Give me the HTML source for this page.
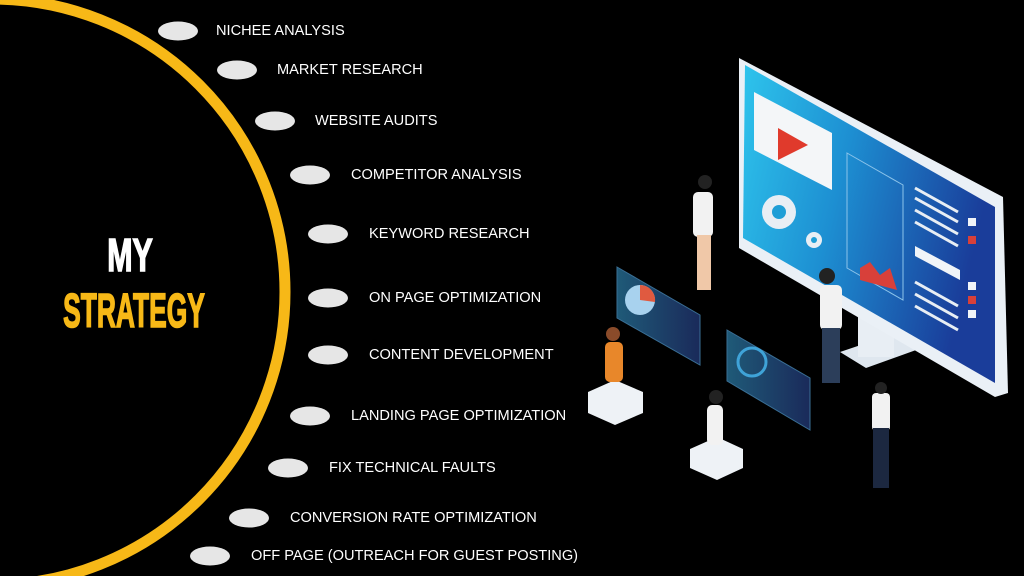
<!DOCTYPE html>
<html><head><meta charset="utf-8"><style>
html,body{margin:0;padding:0;background:#000;}
svg{display:block}
.t{font-family:"Liberation Sans",sans-serif;font-size:14.6px;fill:#fff;dominant-baseline:central}
.h{font-family:"Liberation Sans Narrow","Liberation Sans",sans-serif;font-weight:bold}
</style></head><body>
<svg width="1024" height="576" viewBox="0 0 1024 576" xmlns="http://www.w3.org/2000/svg">
<rect width="1024" height="576" fill="#000"/>
<circle cx="-8" cy="292" r="293" fill="none" stroke="#f7b817" stroke-width="11"/>
<text class="h" x="130" y="271" font-size="46" fill="#fff" stroke="#fff" stroke-width="1.6" text-anchor="middle" transform="translate(130 0) scale(0.66 1) translate(-130 0)">MY</text>
<text class="h" x="134" y="327" font-size="48" fill="#f7b817" stroke="#f7b817" stroke-width="1.6" text-anchor="middle" transform="translate(134 0) scale(0.55 1) translate(-134 0)">STRATEGY</text>
<g fill="#e6e6e6">
<ellipse cx="178" cy="31" rx="20" ry="9.5"/>
<ellipse cx="237" cy="70" rx="20" ry="9.5"/>
<ellipse cx="275" cy="121" rx="20" ry="9.5"/>
<ellipse cx="310" cy="175" rx="20" ry="9.5"/>
<ellipse cx="328" cy="234" rx="20" ry="9.5"/>
<ellipse cx="328" cy="298" rx="20" ry="9.5"/>
<ellipse cx="328" cy="355" rx="20" ry="9.5"/>
<ellipse cx="310" cy="416" rx="20" ry="9.5"/>
<ellipse cx="288" cy="468" rx="20" ry="9.5"/>
<ellipse cx="249" cy="518" rx="20" ry="9.5"/>
<ellipse cx="210" cy="556" rx="20" ry="9.5"/>
</g>
<text class="t" x="216" y="31">NICHEE ANALYSIS</text>
<text class="t" x="277" y="70">MARKET RESEARCH</text>
<text class="t" x="315" y="121">WEBSITE AUDITS</text>
<text class="t" x="351" y="175">COMPETITOR ANALYSIS</text>
<text class="t" x="369" y="234">KEYWORD RESEARCH</text>
<text class="t" x="369" y="298">ON PAGE OPTIMIZATION</text>
<text class="t" x="369" y="355">CONTENT DEVELOPMENT</text>
<text class="t" x="351" y="416">LANDING PAGE OPTIMIZATION</text>
<text class="t" x="329" y="468">FIX TECHNICAL FAULTS</text>
<text class="t" x="290" y="518">CONVERSION RATE OPTIMIZATION</text>
<text class="t" x="251" y="556">OFF PAGE (OUTREACH FOR GUEST POSTING)</text>

<defs>
<linearGradient id="sc" x1="0" y1="0" x2="1" y2="0.3">
<stop offset="0" stop-color="#2ec4ec"/><stop offset="0.45" stop-color="#1d8fd2"/><stop offset="1" stop-color="#1a3d9a"/></linearGradient>
<linearGradient id="pn" x1="0" y1="0" x2="1" y2="0"><stop offset="0" stop-color="#1f5a78"/><stop offset="1" stop-color="#1a2a5a"/></linearGradient>
</defs>
<polygon points="840,352 905,330 930,345 866,368" fill="#dfe7ef"/>
<rect x="858" y="315" width="36" height="42" fill="#e8eef4"/>
<polygon points="739,58 1003,197 1008,393 995,397 739,248" fill="#eaf0f6"/>
<polygon points="745,65 995,207 995,383 743,238" fill="url(#sc)"/>
<polygon points="754,92 832,133 832,190 754,150" fill="#f4f6f8"/>
<polygon points="778,128 808,145 778,160" fill="#e03a2c"/>
<circle cx="779" cy="212" r="17" fill="#e8eef4"/><circle cx="779" cy="212" r="7" fill="#1e9ed6"/>
<circle cx="814" cy="240" r="8" fill="#e8eef4"/><circle cx="814" cy="240" r="3" fill="#1e9ed6"/>
<polygon points="847,153 903,185 903,300 847,268" fill="none" stroke="#8cc4ea" stroke-width="1"/>
<polygon points="860,268 870,262 880,275 890,268 897,290 860,280" fill="#d8403a"/>
<g stroke="#e8eef4" stroke-width="3">
<line x1="915" y1="188" x2="958" y2="212"/><line x1="915" y1="198" x2="958" y2="222"/>
<line x1="915" y1="210" x2="958" y2="234"/><line x1="915" y1="222" x2="958" y2="246"/>
<line x1="915" y1="282" x2="958" y2="306"/><line x1="915" y1="294" x2="958" y2="318"/>
<line x1="915" y1="306" x2="958" y2="330"/>
</g>
<polygon points="915,246 960,270 960,280 915,256" fill="#f0f4f8"/>
<g fill="#f0f4f8"><rect x="968" y="218" width="8" height="8"/><rect x="968" y="282" width="8" height="8"/><rect x="968" y="310" width="8" height="8"/></g>
<g fill="#d8403a"><rect x="968" y="236" width="8" height="8"/><rect x="968" y="296" width="8" height="8"/></g>
<polygon points="617,267 700,315 700,365 617,318" fill="url(#pn)" stroke="#3a6f95"/>
<circle cx="640" cy="300" r="15" fill="#a8d2ee"/><path d="M640 300 L640 285 A15 15 0 0 1 655 302 Z" fill="#e05a40"/>
<polygon points="727,330 810,378 810,430 727,381" fill="url(#pn)" stroke="#3a6f95"/>
<circle cx="752" cy="362" r="14" fill="none" stroke="#3fa3d8" stroke-width="3"/>
<polygon points="588,392 615,380 643,392 643,413 615,425 588,413" fill="#eef2f6"/>
<polygon points="690,449 717,437 743,449 743,468 717,480 690,468" fill="#eef2f6"/>
<rect x="605" y="342" width="18" height="40" rx="5" fill="#e8872a"/><circle cx="613" cy="334" r="7" fill="#8a4b2a"/>
<rect x="707" y="405" width="16" height="40" rx="5" fill="#f2f2f2"/><circle cx="716" cy="397" r="7" fill="#222"/>
<rect x="693" y="192" width="20" height="45" rx="5" fill="#f2f2f2"/><circle cx="705" cy="182" r="7" fill="#222"/>
<rect x="697" y="235" width="14" height="55" fill="#f0c8a8"/>
<rect x="820" y="285" width="22" height="45" rx="5" fill="#f2f2f2"/><circle cx="827" cy="276" r="8" fill="#222"/>
<rect x="822" y="328" width="18" height="55" fill="#2c3e5a"/>
<rect x="872" y="393" width="18" height="38" rx="4" fill="#f2f2f2"/><circle cx="881" cy="388" r="6" fill="#222"/>
<rect x="873" y="428" width="16" height="60" fill="#1c2840"/>
</svg>
</body></html>
